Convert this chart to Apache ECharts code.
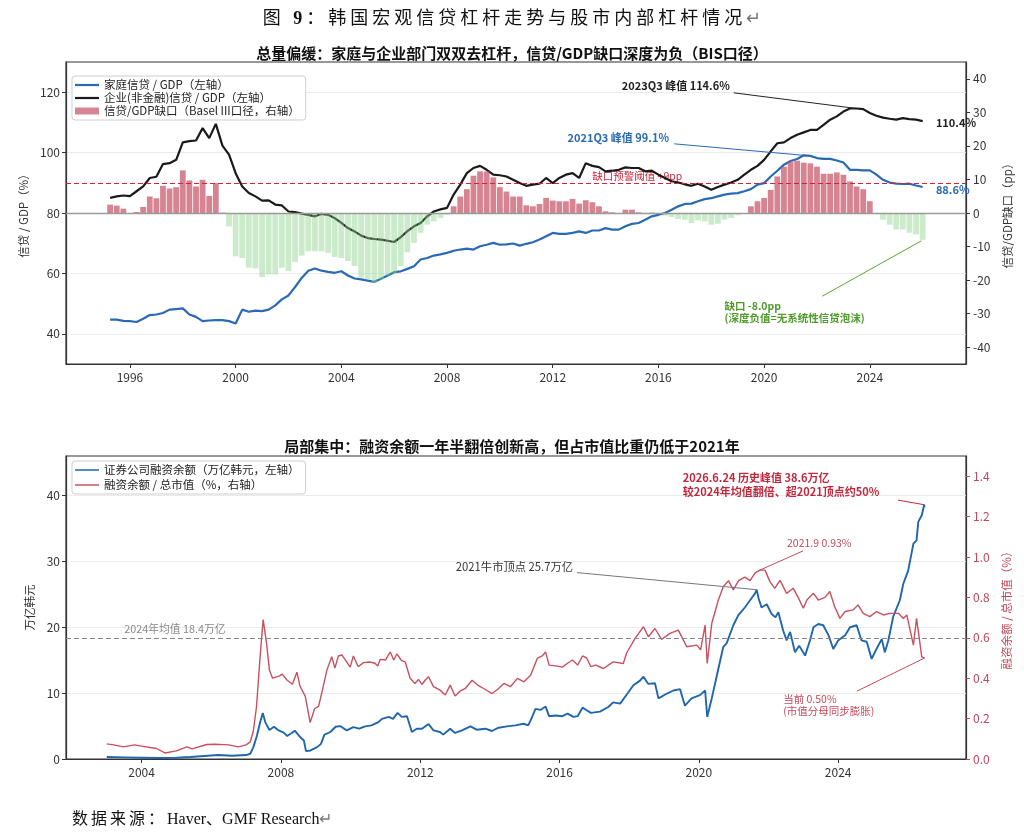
<!DOCTYPE html>
<html>
<head>
<meta charset="utf-8">
<script src="https://cdn.jsdelivr.net/npm/echarts@6/dist/echarts.min.js"></script>
<style>
html,body{margin:0;padding:0;background:#fff;}
#wrap{position:relative;width:1024px;height:834px;overflow:hidden;}
#chart{position:absolute;left:0;top:0;width:1024px;height:834px;}
#cap{position:absolute;top:3px;left:0;width:1024px;text-align:center;font-family:"Liberation Serif","Noto Sans CJK SC",serif;font-size:18px;letter-spacing:4px;color:#111;}
#src{position:absolute;left:72px;top:805px;font-family:"Liberation Serif","Noto Sans CJK SC",serif;font-size:16px;color:#111;}
.pm{color:#777;letter-spacing:0;}
</style>
</head>
<body>
<div id="wrap">
<div id="chart"></div>
<div id="cap">图 <b>9</b>：韩国宏观信贷杠杆走势与股市内部杠杆情况<span class="pm">↵</span></div>
<div id="src"><span style="letter-spacing:3px">数据来源：</span>Haver、GMF Research<span class="pm">↵</span></div>
</div>
<script>
// ---------- Top chart data (quarterly, first point 1995Q2) ----------
const quarterStart = 1995.25;
const householdCredit = [
 44.7,44.7,44.3,
 44.2,43.9,45.0,46.2, 46.4,46.9,48.0,48.2, 48.4,46.4,45.6,44.2, 44.4,44.5,44.5,44.2,
 43.4,48.0,47.3,47.7, 47.5,48.0,49.4,51.4, 52.7,55.5,58.5,60.9, 61.6,60.9,60.5,60.2,
 60.7,59.3,58.3,58.0, 57.6,57.2,58.2,59.3, 60.4,60.7,61.5,62.4, 64.6,65.1,65.9,66.3,
 66.8,67.5,67.9,68.2, 67.9,69.0,69.5,70.1, 69.5,69.6,69.9,69.2, 69.8,70.3,71.2,72.3,
 73.4,73.1,73.1,73.4, 73.9,73.4,74.2,74.2, 75.0,74.5,74.5,75.6, 76.4,76.7,77.8,78.9,
 79.4,80.0,81.1,82.2, 83.0,83.1,83.9,84.6, 84.9,85.5,86.1,86.4, 86.6,87.2,87.9,89.4,
 89.9,92.1,94.0,96.0, 97.2,97.9,99.1,98.9, 98.2,97.9,97.9,97.4, 96.7,94.3,94.3,94.1,
 94.1,92.7,91.0,90.1, 89.7,89.6,89.7,89.1, 88.6
];
const corporateCredit = [
 85.0,85.5,85.8,
 85.6,87.2,88.8,91.6, 92.0,96.2,96.5,97.6, 103.4,103.8,104.0,108.1, 104.8,109.5,102.3,99.3,
 93.2,88.8,86.6,85.5, 84.1,84.2,82.8,82.5, 80.5,80.3,79.8,79.4, 78.9,79.7,79.4,78.3,
 76.7,75.0,73.9,72.5, 71.7,71.4,71.2,70.8, 70.4,72.0,74.0,75.6, 76.7,78.9,80.5,81.2,
 81.7,86.1,89.4,93.2, 94.9,95.6,94.3,92.7, 92.5,92.1,91.0,89.9, 89.0,89.4,89.7,91.6,
 89.9,91.6,92.7,93.2, 91.6,96.5,95.6,95.2, 93.8,94.0,94.3,95.1, 94.9,94.9,93.8,94.0,
 92.7,91.6,90.5,90.1, 89.5,89.0,89.7,88.8, 87.7,88.6,89.4,90.1, 91.0,92.7,94.3,95.6,
 97.6,100.4,103.1,103.4, 104.8,105.9,106.7,107.5, 107.5,109.2,110.9,112.0, 113.6,114.6,114.6,114.4,
 113.1,112.2,111.6,111.2, 110.9,111.4,111.1,110.9, 110.4
];
const creditGap = [
 2.5,2.2,1.3,
 0,0.3,1.8,4.9, 4.4,8.1,7.3,7.7, 12.7,9.7,7.9,9.9, 5.1,8.9,0.1,-4.0,
 -12.9,-13.4,-16.3,-16.5, -19.1,-18.3,-18.3,-16.3, -17.3,-14.6,-12.7,-11.4, -11.4,-11.4,-11.9,-13.1,
 -13.4,-14.3,-15.8,-19.3, -19.8,-20.8,-19.8,-18.6, -18.0,-15.8,-11.7,-8.9, -5.9,-3.5,-2.5,-1.5,
 -0.5,2.0,4.9,7.1, 11.1,12.4,12.4,10.6, 7.7,6.4,4.9,4.9, 2.3,2.0,2.7,4.5,
 3.7,3.5,3.5,4.2, 2.8,3.8,3.2,2.0, 0.5,0.2,0,1.0, 1.0,0.2,0,0.1,
 0,-0.8,-1.2,-1.8, -2.0,-3.0,-2.2,-2.5, -3.5,-3.2,-2.0,-1.5, -0.7,-0.2,2.0,3.5,
 4.5,6.9,10.9,13.8, 15.3,15.6,15.0,14.8, 13.8,11.7,11.7,12.1, 11.4,9.4,7.9,7.1,
 3.5,0,-2.0,-3.5, -4.9,-4.9,-5.9,-6.4, -8.0
];
const gapThreshold = 9;
const topYearTicks = [1996,2000,2004,2008,2012,2016,2020,2024];
const topLeftTicks = [40,60,80,100,120];
const topRightTicks = [-40,-30,-20,-10,0,10,20,30,40];

// ---------- Bottom chart data ----------
const marginDates = [
 2003.00,2003.50,2004.00,2004.50,2005.00,2005.40,2005.90,2006.20,2006.60,2007.00,
 2007.12,2007.21,2007.31,2007.40,2007.48,2007.55,2007.67,2007.80,2007.92,2008.08,
 2008.18,2008.30,2008.40,2008.56,2008.66,2008.72,2008.85,2009.04,2009.15,2009.25,
 2009.42,2009.57,2009.70,2009.89,2010.08,2010.25,2010.42,2010.60,2010.80,2010.90,
 2011.10,2011.22,2011.35,2011.47,2011.62,2011.76,2011.90,2012.05,2012.24,2012.38,
 2012.57,2012.66,2012.86,2013.00,2013.20,2013.44,2013.62,2013.87,2014.06,2014.25,
 2014.49,2014.73,2014.97,2015.10,2015.17,2015.31,2015.45,2015.60,2015.70,2015.89,
 2016.08,2016.23,2016.40,2016.52,2016.66,2016.78,2016.90,2017.16,2017.40,2017.54,
 2017.74,2017.93,2018.12,2018.31,2018.41,2018.55,2018.74,2018.84,2019.07,2019.27,
 2019.46,2019.60,2019.79,2020.03,2020.18,2020.24,2020.37,2020.56,2020.70,2020.80,
 2020.99,2021.13,2021.32,2021.47,2021.61,2021.66,2021.72,2021.80,2021.95,2022.09,
 2022.20,2022.28,2022.42,2022.52,2022.62,2022.76,2022.88,2023.05,2023.19,2023.29,
 2023.43,2023.57,2023.72,2023.86,2024.00,2024.20,2024.34,2024.53,2024.67,2024.82,
 2024.96,2025.10,2025.25,2025.34,2025.44,2025.58,2025.77,2025.87,2026.01,2026.16,
 2026.25,2026.30,2026.40,2026.47,2026.48
];
const marginBalance = [
 0.3,0.25,0.2,0.15,0.2,0.3,0.5,0.6,0.5,0.6,
 0.8,1.8,3.5,5.5,7.0,5.6,4.4,4.9,4.4,4.0,
 3.5,3.9,4.3,3.3,2.8,1.2,1.3,1.8,2.3,3.7,
 4.1,4.9,5.0,4.35,4.85,4.6,4.96,5.1,5.6,6.1,
 6.4,6.1,7.0,6.4,6.5,4.1,4.6,4.6,5.3,4.35,
 4.1,3.7,4.6,3.95,4.35,4.96,4.45,4.6,4.25,4.75,
 4.96,5.1,5.35,5.1,5.86,7.6,7.45,7.96,6.5,6.6,
 6.5,6.9,6.4,6.5,7.8,7.4,7.0,7.2,7.9,8.6,
 8.4,9.8,11.2,11.9,12.5,11.4,11.5,9.2,9.9,10.4,
 10.6,8.1,9.2,9.7,10.4,6.4,9.2,13.7,17.0,17.6,
 20.3,21.8,23.0,24.1,25.1,25.7,24.3,23.0,23.5,22.0,
 21.5,22.3,19.5,18.0,19.3,16.2,17.2,15.7,18.0,20.0,
 20.5,20.3,18.8,16.7,18.0,18.8,20.0,20.3,18.0,17.8,
 15.2,16.7,18.2,16.2,18.0,21.6,24.1,26.6,28.6,32.7,
 33.2,36.0,37.0,38.6,38.2
];
const ratioDates = [
 2003.00,2003.20,2003.48,2003.80,2003.95,2004.43,2004.67,2005.00,2005.30,2005.45,
 2005.87,2006.10,2006.50,2006.78,2007.00,2007.12,2007.21,2007.30,2007.40,2007.49,
 2007.59,2007.67,2007.76,2007.95,2008.04,2008.18,2008.33,2008.46,2008.55,2008.70,
 2008.84,2008.97,2009.08,2009.17,2009.32,2009.46,2009.55,2009.65,2009.75,2009.99,
 2010.08,2010.22,2010.37,2010.55,2010.70,2010.78,2010.85,2011.00,2011.14,2011.24,
 2011.33,2011.45,2011.57,2011.71,2011.85,2011.95,2012.05,2012.14,2012.24,2012.38,
 2012.57,2012.72,2012.86,2013.00,2013.15,2013.30,2013.49,2013.65,2013.87,2014.06,
 2014.22,2014.40,2014.50,2014.59,2014.79,2014.98,2015.17,2015.36,2015.50,2015.60,
 2015.70,2015.94,2016.08,2016.23,2016.37,2016.52,2016.66,2016.78,2016.90,2017.04,
 2017.26,2017.54,2017.83,2017.93,2018.17,2018.41,2018.55,2018.74,2018.93,2019.17,
 2019.41,2019.65,2019.94,2020.05,2020.18,2020.24,2020.37,2020.56,2020.70,2020.85,
 2020.99,2021.14,2021.32,2021.47,2021.61,2021.75,2021.90,2022.04,2022.18,2022.33,
 2022.52,2022.71,2022.85,2023.00,2023.10,2023.29,2023.43,2023.62,2023.76,2023.90,
 2024.05,2024.20,2024.43,2024.57,2024.72,2024.91,2025.10,2025.30,2025.49,2025.73,
 2025.87,2025.97,2026.16,2026.25,2026.40,2026.48
];
const marginRatio = [
 0.075,0.07,0.06,0.07,0.065,0.052,0.03,0.04,0.06,0.05,
 0.072,0.073,0.07,0.06,0.07,0.085,0.14,0.26,0.50,0.69,
 0.57,0.44,0.40,0.41,0.42,0.39,0.37,0.43,0.36,0.31,
 0.18,0.25,0.26,0.325,0.44,0.506,0.45,0.51,0.515,0.455,
 0.51,0.457,0.477,0.48,0.474,0.46,0.493,0.49,0.53,0.49,
 0.52,0.49,0.48,0.40,0.374,0.394,0.369,0.39,0.407,0.358,
 0.341,0.317,0.366,0.312,0.337,0.35,0.39,0.366,0.344,0.324,
 0.344,0.374,0.366,0.358,0.399,0.382,0.415,0.498,0.51,0.53,
 0.465,0.46,0.455,0.474,0.49,0.465,0.51,0.50,0.457,0.465,
 0.448,0.481,0.473,0.526,0.597,0.655,0.605,0.646,0.592,0.622,
 0.638,0.556,0.564,0.54,0.663,0.473,0.671,0.787,0.853,0.883,
 0.837,0.883,0.90,0.883,0.92,0.935,0.935,0.878,0.845,0.884,
 0.82,0.845,0.80,0.746,0.787,0.82,0.787,0.80,0.829,0.754,
 0.696,0.73,0.738,0.763,0.721,0.705,0.73,0.713,0.721,0.721,
 0.696,0.713,0.564,0.696,0.506,0.50
];
const avg2024 = 18.4;
const botYearTicks = [2004,2008,2012,2016,2020,2024];
const botLeftTicks = [0,10,20,30,40];
const botRightTicks = [0,0.2,0.4,0.6,0.8,1.0,1.2,1.4];

// ---------- styling ----------
const FONT = '"Noto Sans CJK SC","Noto Sans",sans-serif';
const BLUE = '#2a69b4', BLACK = '#1a1a1a';
const BAR_RED = 'rgba(196,80,98,0.7)', BAR_GREEN = 'rgba(140,210,140,0.45)';
const BBLUE = '#2166ac', BRED = '#c8505f', ARED = '#c0283c';
const LINEICON = 'path://M0,0H24V2.2H0Z';
const AX = '#333';
const TICKFS = 12;

const qx = i => quarterStart + i * 0.25;
const hhData = householdCredit.map((v, i) => [qx(i), v]);
const corpData = corporateCredit.map((v, i) => [qx(i), v]);
const gapData = creditGap.map((v, i) => ({ value: [qx(i), v], itemStyle: { color: v >= 0 ? BAR_RED : BAR_GREEN } }));
const balData = marginDates.map((d, i) => [d, marginBalance[i]]);
const ratData = ratioDates.map((d, i) => [d, marginRatio[i]]);

const labelStyle = { fontFamily: FONT, fontSize: TICKFS, color: AX };
function xAxisCfg(grid, min, max, ticks) {
  return {
    gridIndex: grid, type: 'value', min: min, max: max,
    axisLine: { show: true, onZero: false, lineStyle: { color: AX, width: 1.2 } },
    axisTick: { show: true, customValues: ticks, length: 4, lineStyle: { color: AX } },
    axisLabel: Object.assign({ customValues: ticks, margin: 7, formatter: v => String(Math.round(v)) }, labelStyle),
    splitLine: { show: false }
  };
}

const chart = echarts.init(document.getElementById('chart'), null, { renderer: 'canvas' });
const option = {
  animation: false,
  backgroundColor: '#fff',
  title: [
    { text: '总量偏缓：家庭与企业部门双双去杠杆，信贷/GDP缺口深度为负（BIS口径）', left: 'center', top: 41,
      textStyle: { fontFamily: FONT, fontSize: 15, fontWeight: 'bold', color: '#111' } },
    { text: '局部集中：融资余额一年半翻倍创新高，但占市值比重仍低于2021年', left: 'center', top: 434,
      textStyle: { fontFamily: FONT, fontSize: 15, fontWeight: 'bold', color: '#111' } }
  ],
  grid: [
    { left: 66, top: 62, width: 900, height: 302, show: true, borderColor: AX, borderWidth: 1.2, containLabel: false, outerBoundsMode: 'none' },
    { left: 66, top: 456, width: 900, height: 303, show: true, borderColor: AX, borderWidth: 1.2, containLabel: false, outerBoundsMode: 'none' }
  ],
  legend: [
    { orient: 'vertical', left: 72, top: 76, itemWidth: 24, itemHeight: 7, itemGap: 1, itemTextGap: 8,
      symbolKeepAspect: true, padding: [3, 6, 3, 3], borderColor: '#cfcfcf', borderWidth: 1, borderRadius: 3,
      backgroundColor: 'rgba(255,255,255,0.92)', selectedMode: false,
      textStyle: { fontFamily: FONT, fontSize: 11.5, color: '#222', lineHeight: 12 },
      data: [
        { name: '家庭信贷 / GDP（左轴）', icon: LINEICON },
        { name: '企业(非金融)信贷 / GDP（左轴）', icon: LINEICON },
        { name: '信贷/GDP缺口（Basel III口径，右轴）', icon: 'rect', itemStyle: { color: BAR_RED } }
      ] },
    { orient: 'vertical', left: 72, top: 461, itemWidth: 24, itemHeight: 7, itemGap: 3, itemTextGap: 8,
      symbolKeepAspect: true, padding: [3, 6, 3, 3], borderColor: '#cfcfcf', borderWidth: 1, borderRadius: 3,
      backgroundColor: 'rgba(255,255,255,0.92)', selectedMode: false,
      textStyle: { fontFamily: FONT, fontSize: 11.5, color: '#222', lineHeight: 12 },
      data: [
        { name: '证券公司融资余额（万亿韩元，左轴）', icon: 'path://M0,0H24V1.5H0Z' },
        { name: '融资余额 / 总市值（%，右轴）', icon: 'path://M0,0H24V1.5H0Z' }
      ] }
  ],
  xAxis: [
    xAxisCfg(0, 1993.58, 2027.64, topYearTicks),
    xAxisCfg(1, 2001.83, 2027.67, botYearTicks)
  ],
  yAxis: [
    { gridIndex: 0, type: 'value', position: 'left', min: 30, max: 130,
      name: '信贷 / GDP（%）', nameLocation: 'middle', nameGap: 33, nameRotate: 90,
      nameTextStyle: { fontFamily: FONT, fontSize: 11.5, color: AX },
      axisLine: { show: true, onZero: false, lineStyle: { color: AX, width: 1.2 } },
      axisTick: { show: true, customValues: topLeftTicks, length: 4, lineStyle: { color: AX } },
      axisLabel: Object.assign({ customValues: topLeftTicks, margin: 6 }, labelStyle),
      splitLine: { show: true, lineStyle: { color: '#ebebeb', width: 1 } } },
    { gridIndex: 0, type: 'value', position: 'right', min: -45, max: 45,
      name: '信贷/GDP缺口（pp）', nameLocation: 'middle', nameGap: 30, nameRotate: 90,
      nameTextStyle: { fontFamily: FONT, fontSize: 11.5, color: AX },
      axisLine: { show: true, onZero: false, lineStyle: { color: AX, width: 1.2 } },
      axisTick: { show: true, customValues: topRightTicks, length: 4, lineStyle: { color: AX } },
      axisLabel: Object.assign({ customValues: topRightTicks, margin: 7 }, labelStyle),
      splitLine: { show: false } },
    { gridIndex: 1, type: 'value', position: 'left', min: 0, max: 46,
      name: '万亿韩元', nameLocation: 'middle', nameGap: 26, nameRotate: 90,
      nameTextStyle: { fontFamily: FONT, fontSize: 11.5, color: AX },
      axisLine: { show: true, onZero: false, lineStyle: { color: AX, width: 1.2 } },
      axisTick: { show: true, customValues: botLeftTicks, length: 4, lineStyle: { color: AX } },
      axisLabel: Object.assign({ customValues: botLeftTicks, margin: 6 }, labelStyle),
      splitLine: { show: true, lineStyle: { color: '#ebebeb', width: 1 } } },
    { gridIndex: 1, type: 'value', position: 'right', min: 0, max: 1.5,
      name: '融资余额 / 总市值（%）', nameLocation: 'middle', nameGap: 29, nameRotate: 90,
      nameTextStyle: { fontFamily: FONT, fontSize: 11.5, color: '#c0485a' },
      axisLine: { show: true, onZero: false, lineStyle: { color: AX, width: 1.2 } },
      axisTick: { show: true, customValues: botRightTicks, length: 4, lineStyle: { color: '#c0485a' } },
      axisLabel: { customValues: botRightTicks, margin: 7, fontFamily: FONT, fontSize: TICKFS, color: '#c0485a', formatter: v => v.toFixed(1) },
      splitLine: { show: false } }
  ],
  series: [
    { name: '家庭信贷 / GDP（左轴）', type: 'line', xAxisIndex: 0, yAxisIndex: 0, data: hhData,
      showSymbol: false, symbol: 'none', z: 2, color: BLUE, lineStyle: { color: BLUE, width: 2.2 } },
    { name: '企业(非金融)信贷 / GDP（左轴）', type: 'line', xAxisIndex: 0, yAxisIndex: 0, data: corpData,
      showSymbol: false, symbol: 'none', z: 2, color: BLACK, lineStyle: { color: BLACK, width: 2.2 } },
    { name: '信贷/GDP缺口（Basel III口径，右轴）', type: 'bar', xAxisIndex: 0, yAxisIndex: 1, data: gapData,
      barWidth: 5.8, z: 3, color: BAR_RED,
      markLine: { silent: true, symbol: 'none', label: { show: false }, z: 4,
        data: [
          { yAxis: 0, lineStyle: { color: '#9a9a9a', type: 'solid', width: 1.3 } },
          { yAxis: gapThreshold, lineStyle: { color: '#c8283c', type: [5, 3], width: 1.2 } }
        ] } },
    { name: '证券公司融资余额（万亿韩元，左轴）', type: 'line', xAxisIndex: 1, yAxisIndex: 2, data: balData,
      showSymbol: false, symbol: 'none', z: 2, color: BBLUE, lineStyle: { color: BBLUE, width: 1.9 },
      markLine: { silent: true, symbol: 'none', label: { show: false },
        data: [{ yAxis: avg2024, lineStyle: { color: '#888', type: [5, 3], width: 1.2 } }] } },
    { name: '融资余额 / 总市值（%，右轴）', type: 'line', xAxisIndex: 1, yAxisIndex: 3, data: ratData,
      showSymbol: false, symbol: 'none', z: 3, color: BRED, lineStyle: { color: BRED, width: 1.4 } }
  ]
};
chart.setOption(option);

// ---------- annotations (anchored in data coordinates) ----------
const notes = [
  { ax: [0, 0], at: [2018.7, 122.1], text: '2023Q3 峰值 114.6%', align: 'right', color: '#222', weight: 'bold', size: 11,
    line: [[2018.85, 119.8], [2023.5, 114.6]], lineColor: '#222' },
  { ax: [0, 0], at: [2016.4, 104.9], text: '2021Q3 峰值 99.1%', align: 'right', color: BLUE, weight: 'bold', size: 11,
    line: [[2016.6, 102.9], [2021.5, 99.1]], lineColor: BLUE },
  { ax: [0, 0], at: [2026.5, 109.8], text: '110.4%', align: 'left', color: '#222', weight: 'bold', size: 11 },
  { ax: [0, 0], at: [2026.5, 87.7], text: '88.6%', align: 'left', color: BLUE, weight: 'bold', size: 11 },
  { ax: [0, 1], at: [2015.2, 10.9], text: '缺口预警阈值 +9pp', align: 'center', color: '#c8283c', weight: 'normal', size: 10.5, z: 1 },
  { ax: [0, 1], at: [2018.5, -29.4], text: '缺口 -8.0pp\n(深度负值=无系统性信贷泡沫)', align: 'left', color: '#4e9a2a', weight: 'bold', size: 10.5, lh: 12,
    line: [[2022.2, -24.8], [2025.95, -8.3]], lineColor: '#5aa632' },
  { ax: [1, 2], at: [2019.54, 41.55], text: '2026.6.24 历史峰值 38.6万亿\n较2024年均值翻倍、超2021顶点约50%', align: 'left', color: ARED, weight: 'bold', size: 11, lh: 14,
    line: [[2025.72, 39.3], [2026.47, 38.6]], lineColor: ARED },
  { ax: [1, 3], at: [2022.53, 1.07], text: '2021.9 0.93%', align: 'left', color: '#c44a5a', weight: 'normal', size: 10.5,
    line: [[2022.99, 1.03], [2021.75, 0.935]], lineColor: '#c44a5a' },
  { ax: [1, 2], at: [2016.39, 29.2], text: '2021牛市顶点 25.7万亿', align: 'right', color: '#333', weight: 'normal', size: 11.3,
    line: [[2016.5, 28.3], [2021.66, 25.7]], lineColor: '#777' },
  { ax: [1, 3], at: [2022.42, 0.266], text: '当前 0.50%\n(市值分母同步膨胀)', align: 'left', color: '#c44a5a', weight: 'normal', size: 10.5, lh: 12,
    line: [[2024.54, 0.336], [2026.48, 0.50]], lineColor: '#c44a5a' },
  { ax: [1, 2], at: [2003.5, 19.8], text: '2024年均值 18.4万亿', align: 'left', color: '#8a8a8a', weight: 'normal', size: 10.8 }
];
function P(ax, pt) { return chart.convertToPixel({ xAxisIndex: ax[0], yAxisIndex: ax[1] }, pt); }
const graphics = [];
notes.forEach(n => {
  if (n.line) {
    const a = P(n.ax, n.line[0]), b = P(n.ax, n.line[1]);
    graphics.push({ type: 'line', z: 50, silent: true,
      shape: { x1: a[0], y1: a[1], x2: b[0], y2: b[1] },
      style: { stroke: n.lineColor, lineWidth: 1 } });
  }
  const p = P(n.ax, n.at);
  graphics.push({ type: 'text', z: n.z !== undefined ? n.z : 60, silent: true, x: p[0], y: p[1],
    style: { text: n.text, fill: n.color, fontFamily: FONT, fontSize: n.size, fontWeight: n.weight,
      align: n.align, verticalAlign: 'middle', lineHeight: n.lh || n.size + 2 } });
});
chart.setOption({ graphic: graphics });
</script>
</body>
</html>
